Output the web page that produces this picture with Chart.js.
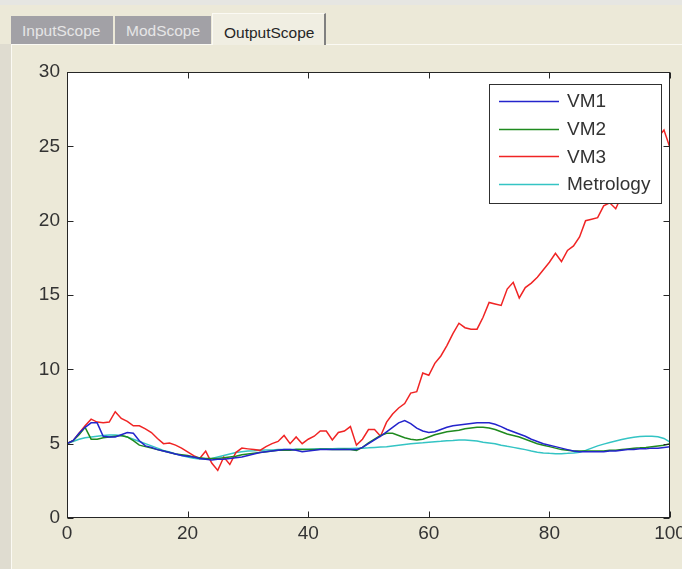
<!DOCTYPE html>
<html>
<head>
<meta charset="utf-8">
<script src="https://cdn.jsdelivr.net/npm/chart.js@4.4.0/dist/chart.umd.min.js"></script>
<style>
  html, body { margin: 0; padding: 0; background: #ece9d8; overflow: hidden; }
  #wrap { position: relative; width: 682px; height: 569px; background: #ece9d8; font-family: "Liberation Sans", Arial, sans-serif; }
  #topband { position: absolute; left: 0; top: 0; width: 682px; height: 5px; background: #e6e6e2; }
  #leftband { position: absolute; left: 0; top: 44px; width: 11px; height: 525px; background: #dfdcd0; }
  #panel { position: absolute; left: 11px; top: 44px; width: 700px; height: 560px; border-left: 1px solid #fbfaf4; border-top: 1px solid #fbfaf4; }
  .tab { position: absolute; box-sizing: border-box; font-size: 15.5px; z-index: 2; white-space: nowrap; }
  .tab.off { top: 16px; height: 28px; line-height: 30px; background: #a2a1a6; color: #e6e6e6; padding-left: 11px; }
  .tab.on { top: 13px; height: 32px; line-height: 38px; background: #f0eee2; color: #262626; padding-left: 11px;
            border-top: 1px solid #fbfaf4; border-left: 1px solid #fbfaf4; border-right: 2px solid #808080; }
  canvas { position: absolute; left: 0; top: 0; z-index: 1; }
</style>
</head>
<body>
<div id="wrap">
  <div id="topband"></div>
  <div id="leftband"></div>
  <div id="panel"></div>
  <div class="tab off" style="left:11px;width:102px">InputScope</div>
  <div class="tab off" style="left:115px;width:96px">ModScope</div>
  <div class="tab on" style="left:212px;width:114px">OutputScope</div>
  <canvas id="chart" width="682" height="569"></canvas>
</div>
<script>
// sampled values, one per step 0..100
const vm1 = [5.0, 5.2, 5.7, 6.1, 6.4, 6.4, 5.5, 5.45, 5.45, 5.6, 5.75, 5.7, 5.2, 4.85, 4.75, 4.6, 4.5, 4.4, 4.3, 4.2,
  4.15, 4.1, 4.0, 3.95, 3.9, 3.95, 3.95, 4.0, 4.05, 4.1, 4.2, 4.3, 4.4, 4.45, 4.5, 4.55, 4.6, 4.6, 4.55, 4.45,
  4.5, 4.55, 4.6, 4.6, 4.6, 4.6, 4.6, 4.6, 4.6, 4.75, 5.0, 5.25, 5.5, 5.8, 6.1, 6.4, 6.55, 6.35, 6.05, 5.85,
  5.75, 5.8, 5.95, 6.1, 6.2, 6.25, 6.3, 6.35, 6.4, 6.4, 6.4, 6.3, 6.15, 5.95, 5.8, 5.65, 5.5, 5.3, 5.15, 5.0,
  4.9, 4.8, 4.7, 4.6, 4.5, 4.45, 4.45, 4.45, 4.45, 4.45, 4.5, 4.5, 4.55, 4.6, 4.6, 4.65, 4.65, 4.7, 4.7, 4.75, 4.8];
const vm2 = [5.0, 5.2, 5.6, 6.1, 5.3, 5.3, 5.4, 5.45, 5.5, 5.55, 5.45, 5.2, 4.9, 4.8, 4.7, 4.6, 4.5, 4.4, 4.3, 4.25,
  4.2, 4.1, 4.05, 4.0, 4.0, 4.0, 4.05, 4.1, 4.15, 4.25, 4.3, 4.35, 4.4, 4.45, 4.5, 4.55, 4.55, 4.55, 4.6, 4.6,
  4.6, 4.6, 4.62, 4.62, 4.6, 4.6, 4.62, 4.6, 4.55, 4.75, 5.05, 5.3, 5.55, 5.7, 5.7, 5.55, 5.4, 5.3, 5.25, 5.3,
  5.45, 5.6, 5.7, 5.8, 5.85, 5.9, 6.0, 6.05, 6.1, 6.1, 6.05, 5.95, 5.8, 5.65, 5.55, 5.45, 5.3, 5.15, 5.0, 4.9,
  4.8, 4.7, 4.6, 4.55, 4.5, 4.5, 4.5, 4.5, 4.5, 4.5, 4.55, 4.55, 4.6, 4.65, 4.7, 4.72, 4.75, 4.8, 4.85, 4.9, 5.0];
const vm3 = [5.0, 5.2, 5.7, 6.2, 6.65, 6.45, 6.4, 6.45, 7.15, 6.7, 6.5, 6.2, 6.2, 6.0, 5.75, 5.35, 5.0, 5.05, 4.9, 4.7,
  4.45, 4.2, 4.0, 4.5, 3.7, 3.2, 4.1, 3.6, 4.4, 4.7, 4.65, 4.6, 4.55, 4.8, 5.0, 5.15, 5.55, 5.0, 5.45, 5.0,
  5.3, 5.5, 5.85, 5.85, 5.25, 5.75, 5.85, 6.15, 4.9, 5.3, 5.95, 5.95, 5.5, 6.45, 7.0, 7.4, 7.7, 8.4, 8.5, 9.75,
  9.6, 10.4, 10.9, 11.6, 12.4, 13.1, 12.8, 12.7, 12.7, 13.5, 14.5, 14.4, 14.3, 15.4, 15.85, 14.8, 15.5, 15.8, 16.2, 16.7,
  17.2, 17.8, 17.25, 18.0, 18.3, 18.9, 20.0, 20.1, 20.2, 21.0, 21.2, 20.8, 21.7, 22.3, 22.8, 23.4, 23.9, 24.6, 25.6, 26.1, 24.9];
const metrology = [5.0, 5.15, 5.3, 5.4, 5.45, 5.5, 5.55, 5.58, 5.58, 5.55, 5.45, 5.3, 5.15, 5.0, 4.85, 4.7, 4.55, 4.45, 4.3, 4.2,
  4.1, 4.02, 3.97, 3.95, 4.0, 4.1, 4.2, 4.3, 4.4, 4.45, 4.5, 4.52, 4.55, 4.57, 4.58, 4.6, 4.6, 4.6, 4.62, 4.62,
  4.63, 4.64, 4.65, 4.65, 4.66, 4.67, 4.68, 4.68, 4.7, 4.7, 4.72, 4.75, 4.78, 4.8, 4.85, 4.9, 4.95, 5.0, 5.03, 5.06,
  5.1, 5.13, 5.16, 5.2, 5.22, 5.25, 5.25, 5.22, 5.18, 5.1, 5.05, 5.0, 4.9, 4.82, 4.75, 4.68, 4.6, 4.5, 4.43, 4.38,
  4.35, 4.33, 4.33, 4.35, 4.38, 4.42, 4.55, 4.7, 4.85, 4.97, 5.08, 5.18, 5.28, 5.36, 5.43, 5.48, 5.5, 5.5, 5.47, 5.35, 5.1];

const seriesNames = ['VM1', 'VM2', 'VM3', 'Metrology'];
const xTickValues = [0, 20, 40, 60, 80, 100];
const yTickValues = [0, 5, 10, 15, 20, 25, 30];

const samples = vm1.map((_, i) => i);
const toPoints = (vals) => vals.map((v, i) => ({ x: samples[i], y: v }));

const colors = ['#2424cc', '#1f8a1f', '#f02424', '#34c4c4'];
const FONT = '"Liberation Sans", Arial, sans-serif';

// white axes area, MATLAB-style box with inward ticks, legend drawn on top of the lines
const frame = {
  id: 'frame',
  beforeDraw(chart) {
    const { ctx, chartArea: a } = chart;
    ctx.save();
    ctx.fillStyle = '#ffffff';
    ctx.fillRect(a.left, a.top, a.right - a.left, a.bottom - a.top);
    ctx.restore();
  },
  afterDatasetsDraw(chart) {
    const { ctx, chartArea: a, scales } = chart;
    const L = Math.round(a.left) + 0.5, R = Math.round(a.right) - 0.5;
    const T = Math.round(a.top) + 0.5, B = Math.round(a.bottom) - 0.5;
    ctx.save();
    ctx.strokeStyle = '#262626';
    ctx.lineWidth = 1;
    ctx.strokeRect(L, T, R - L, B - T);
    ctx.beginPath();
    xTickValues.forEach(v => {
      const px = Math.round(scales.x.getPixelForValue(v)) + 0.5;
      ctx.moveTo(px, B); ctx.lineTo(px, B - 6);
      ctx.moveTo(px, T); ctx.lineTo(px, T + 6);
    });
    yTickValues.forEach(v => {
      const py = Math.round(scales.y.getPixelForValue(v)) + 0.5;
      ctx.moveTo(L, py); ctx.lineTo(L + 6, py);
      ctx.moveTo(R, py); ctx.lineTo(R - 6, py);
    });
    ctx.stroke();
    ctx.restore();
  },
  afterDraw(chart) {
    const { ctx } = chart;
    const box = { left: 489.5, top: 84.5, width: 172, height: 119 };
    ctx.save();
    ctx.fillStyle = '#ffffff';
    ctx.fillRect(box.left, box.top, box.width, box.height);
    ctx.strokeStyle = '#303030';
    ctx.lineWidth = 1;
    ctx.strokeRect(box.left, box.top, box.width, box.height);
    ctx.font = '19px ' + FONT;
    ctx.textBaseline = 'middle';
    ctx.textAlign = 'left';
    chart.data.datasets.forEach((ds, i) => {
      const rowY = 101 + i * 27.7;
      ctx.strokeStyle = ds.borderColor;
      ctx.lineWidth = 1.5;
      ctx.beginPath();
      ctx.moveTo(499, Math.round(rowY) + 0.5);
      ctx.lineTo(559, Math.round(rowY) + 0.5);
      ctx.stroke();
      ctx.fillStyle = '#333333';
      ctx.fillText(ds.label, 567, rowY + 1);
    });
    ctx.restore();
  }
};

const seriesValues = [vm1, vm2, vm3, metrology];

new Chart(document.getElementById('chart'), {
  type: 'line',
  data: {
    datasets: seriesValues.map((vals, i) => ({
      label: seriesNames[i],
      data: toPoints(vals),
      borderColor: colors[i],
      borderWidth: 1.5,
      pointRadius: 0,
      tension: 0,
      fill: false,
    })),
  },
  options: {
    responsive: false,
    animation: false,
    devicePixelRatio: 1,
    layout: { padding: { top: 72, right: 12, left: 0, bottom: 0 } },
    plugins: { legend: { display: false }, tooltip: { enabled: false } },
    scales: {
      x: {
        type: 'linear',
        min: 0,
        max: 100,
        afterBuildTicks: (scale) => { scale.ticks = xTickValues.map(v => ({ value: v })); },
        afterFit: (scale) => { scale.height = 51; scale.paddingLeft = 0; scale.paddingRight = 0; },
        grid: { display: false, drawTicks: false },
        border: { display: false },
        ticks: { color: '#333333', padding: 4, maxRotation: 0, autoSkip: false, font: { family: FONT, size: 19 } },
      },
      y: {
        min: 0,
        max: 30,
        afterBuildTicks: (scale) => { scale.ticks = yTickValues.map(v => ({ value: v })); },
        afterFit: (scale) => { scale.width = 67; },
        grid: { display: false, drawTicks: false },
        border: { display: false },
        ticks: { color: '#333333', padding: 7, autoSkip: false, font: { family: FONT, size: 19 } },
      },
    },
  },
  plugins: [frame],
});
</script>
</body>
</html>
